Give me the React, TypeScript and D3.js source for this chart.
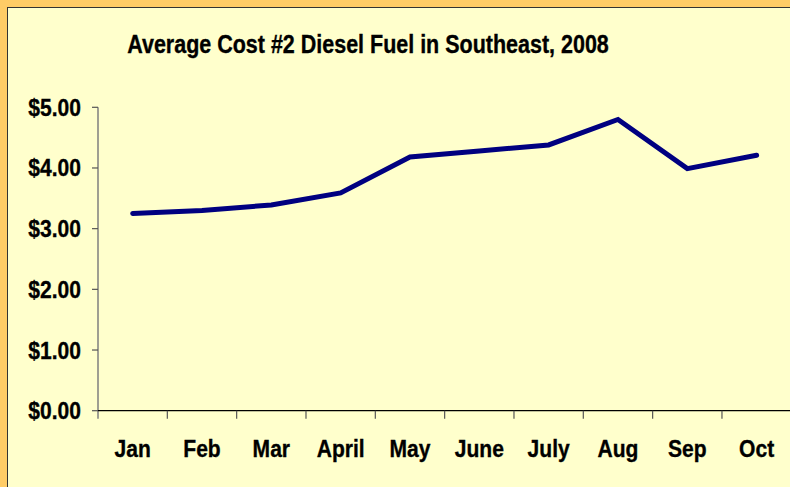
import React from "react";
import * as d3 from "d3";

const title = "Average Cost #2 Diesel Fuel in Southeast, 2008";
const months = ["Jan", "Feb", "Mar", "April", "May", "June", "July", "Aug", "Sep", "Oct"];
const prices = [3.25, 3.3, 3.39, 3.59, 4.18, 4.28, 4.38, 4.8, 3.99, 4.21];
const yTicks = [0, 1, 2, 3, 4, 5];

const width = 790;
const height = 487;
const margin = { top: 107.3, right: -1.3, bottom: 76.3, left: 98 };
const font = "'Liberation Sans', Arial, sans-serif";

// the source text is a little narrower than Arial Bold
const labelStyle = {
  fontFamily: font,
  fontWeight: "bold" as const,
  fontSize: 24.5,
  fill: "#000",
  stroke: "#000",
  strokeWidth: 0.35,
};

export default function App() {
  const innerBottom = height - margin.bottom;

  const xScale = d3
    .scaleBand()
    .domain(months)
    .range([margin.left, width - margin.right]);

  const yScale = d3
    .scaleLinear()
    .domain([0, 5])
    .range([innerBottom, margin.top]);

  const line = d3
    .line<number>()
    .x((_, i) => (xScale(months[i]) as number) + xScale.bandwidth() / 2)
    .y((d) => yScale(d));

  const boundaries = months.map((m) => xScale(m) as number);

  return (
    <svg
      width={width}
      height={height}
      style={{ position: "absolute", left: 0, top: 0 }}
    >
      <rect x={0} y={0} width={width} height={height} fill="#FFCC66" />
      <rect
        x={7.5}
        y={7.5}
        width={width + 20}
        height={height + 20}
        fill="#FFFFCC"
        stroke="#333"
        strokeWidth={1}
      />

      <text
        transform="translate(368,53) scale(0.86,1)"
        textAnchor="middle"
        {...labelStyle}
        fontSize={25}
      >
        {title}
      </text>

      {/* y axis */}
      <line
        x1={margin.left}
        x2={margin.left}
        y1={margin.top}
        y2={innerBottom + 8}
        stroke="#7f7f7f"
        strokeWidth={1.5}
      />
      {yTicks.map((t) => (
        <g key={t}>
          <line
            x1={margin.left - 6}
            x2={margin.left}
            y1={yScale(t)}
            y2={yScale(t)}
            stroke="#555"
            strokeWidth={1.2}
          />
          <text
            transform={`translate(81,${yScale(t) + 8.5}) scale(0.86,1)`}
            textAnchor="end"
            {...labelStyle}
          >
            {d3.format("$.2f")(t)}
          </text>
        </g>
      ))}

      {/* x axis */}
      <line
        x1={margin.left}
        x2={width}
        y1={innerBottom}
        y2={innerBottom}
        stroke="#000"
        strokeWidth={1.3}
      />
      {boundaries.slice(1).map((b) => (
        <line
          key={b}
          x1={b}
          x2={b}
          y1={innerBottom}
          y2={innerBottom + 8}
          stroke="#555"
          strokeWidth={1.2}
        />
      ))}
      {months.map((m) => (
        <text
          key={m}
          transform={`translate(${(xScale(m) as number) + xScale.bandwidth() / 2},456.5) scale(0.86,1)`}
          textAnchor="middle"
          {...labelStyle}
        >
          {m}
        </text>
      ))}

      <path
        d={line(prices) as string}
        fill="none"
        stroke="#000080"
        strokeWidth={5}
        strokeLinecap="round"
      />
    </svg>
  );
}
